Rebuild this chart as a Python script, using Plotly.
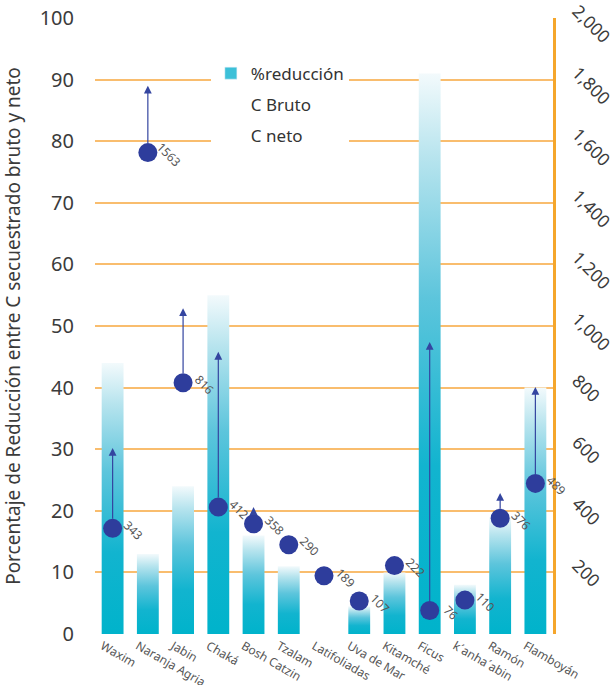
import plotly.graph_objects as go

# Species and their carbon figures
categories = ["Waxim", "Naranja Agria", "Jabin", "Chaká", "Bosh Catzin", "Tzalam",
              "Latifoliadas", "Uva de Mar", "Kitamché", "Ficus", "k´anha´abin",
              "Ramón", "Flamboyán"]
reduccion = [44, 13, 24, 55, 16, 11, 0, 4.5, 10, 91, 8, 19, 40]          # % (left axis)
c_neto = [343, 1563, 816, 412, 358, 290, 189, 107, 222, 76, 110, 376, 489]  # right axis
c_bruto = [604, 1780, 1058, 916, 412, None, None, None, None, 948, None, 458, 802]

left_ticks = list(range(0, 101, 10))
right_ticks = list(range(200, 2001, 200))

BAR_W = 0.62
DOT = "#2E3D9C"
GRID = "#F9BD6E"
AXIS = "#F5A62B"
TEXT = "#3b3b3b"
FONT = "Noto Sans"

bar_scale = [[0.0, "#00B3CB"], [0.3, "#12B4CF"], [0.6, "#5DC5DC"],
             [0.85, "#B7E4EE"], [1.0, "#F3FAFC"]]

fig = go.Figure()

# gradient bars for the reduction percentage
for i, v in enumerate(reduccion):
    if not v:
        continue
    x0, x1 = i - BAR_W / 2, i + BAR_W / 2
    fig.add_trace(go.Scatter(
        x=[x0, x1, x1, x0, x0], y=[0, 0, v, v, 0],
        fill="toself", mode="none",
        fillgradient=dict(type="vertical", colorscale=bar_scale),
        showlegend=False, hoverinfo="skip"))

# legend entries
fig.add_trace(go.Bar(x=[None], y=[None], name="%reducción", legendgroup="a",
                     marker_color="#3CC0D8", showlegend=True))
fig.add_trace(go.Scatter(x=[None], y=[None], name="C Bruto", mode="lines",
                         legendgroup="b", line=dict(color="rgba(0,0,0,0)")))
fig.add_trace(go.Scatter(x=[None], y=[None], name="C neto", mode="lines",
                         legendgroup="c", line=dict(color="rgba(0,0,0,0)")))

# net carbon dots
fig.add_trace(go.Scatter(
    x=list(range(len(categories))), y=c_neto, yaxis="y2", mode="markers",
    marker=dict(size=19, color=DOT), showlegend=False, hoverinfo="skip"))

annotations = []
for i, (n, b) in enumerate(zip(c_neto, c_bruto)):
    annotations.append(dict(
        x=i, y=n, xref="x", yref="y2", text=str(n), showarrow=False,
        textangle=45, xshift=21, yshift=-2,
        font=dict(size=12, color="#555555", family=FONT)))
    if b is not None:
        annotations.append(dict(
            x=i, y=b, xref="x", yref="y2", ax=i, ay=n, axref="x", ayref="y2",
            text="", showarrow=True, arrowhead=2, arrowsize=1.3, arrowwidth=1.2,
            arrowcolor="#3445A0", startstandoff=8))

fig.update_layout(
    width=616, height=685,
    margin=dict(l=95, r=63, t=18, b=51),
    paper_bgcolor="white", plot_bgcolor="white",
    font=dict(family=FONT, color=TEXT),
    showlegend=True,
    legend=dict(x=0.253, y=0.939, xanchor="left", yanchor="top",
                bgcolor="white", font=dict(size=17, color="#333333"),
                tracegroupgap=6),
    xaxis=dict(range=[-0.5, len(categories) - 0.5],
               tickvals=list(range(len(categories))), ticktext=categories,
               tickangle=30, tickfont=dict(size=12, color="#555555"),
               ticklabelshift=-10, ticklabelstandoff=2,
               showgrid=False, zeroline=False, showline=False, ticks="",
               automargin=False),
    yaxis=dict(range=[0, 100], tickvals=left_ticks, showgrid=True,
               gridcolor=GRID, gridwidth=2, zeroline=False,
               tickfont=dict(size=20, color=TEXT), ticklabelstandoff=20,
               title=dict(text="Porcentaje de Reducción entre C secuestrado bruto y neto",
                          font=dict(size=19, color=TEXT), standoff=16),
               automargin=False),
    yaxis2=dict(range=[0, 2000], overlaying="y", side="right",
                tickvals=right_ticks, tickformat=",", tickangle=45,
                tickfont=dict(size=17.5, color=TEXT), showgrid=False,
                ticklabelstandoff=18, ticklabelshift=-9,
                ticklabeloverflow="allow",
                zeroline=False, showline=True, linecolor=AXIS, linewidth=2.5,
                ticks="", automargin=False),
    annotations=annotations,
)

fig.write_html("out.html")
